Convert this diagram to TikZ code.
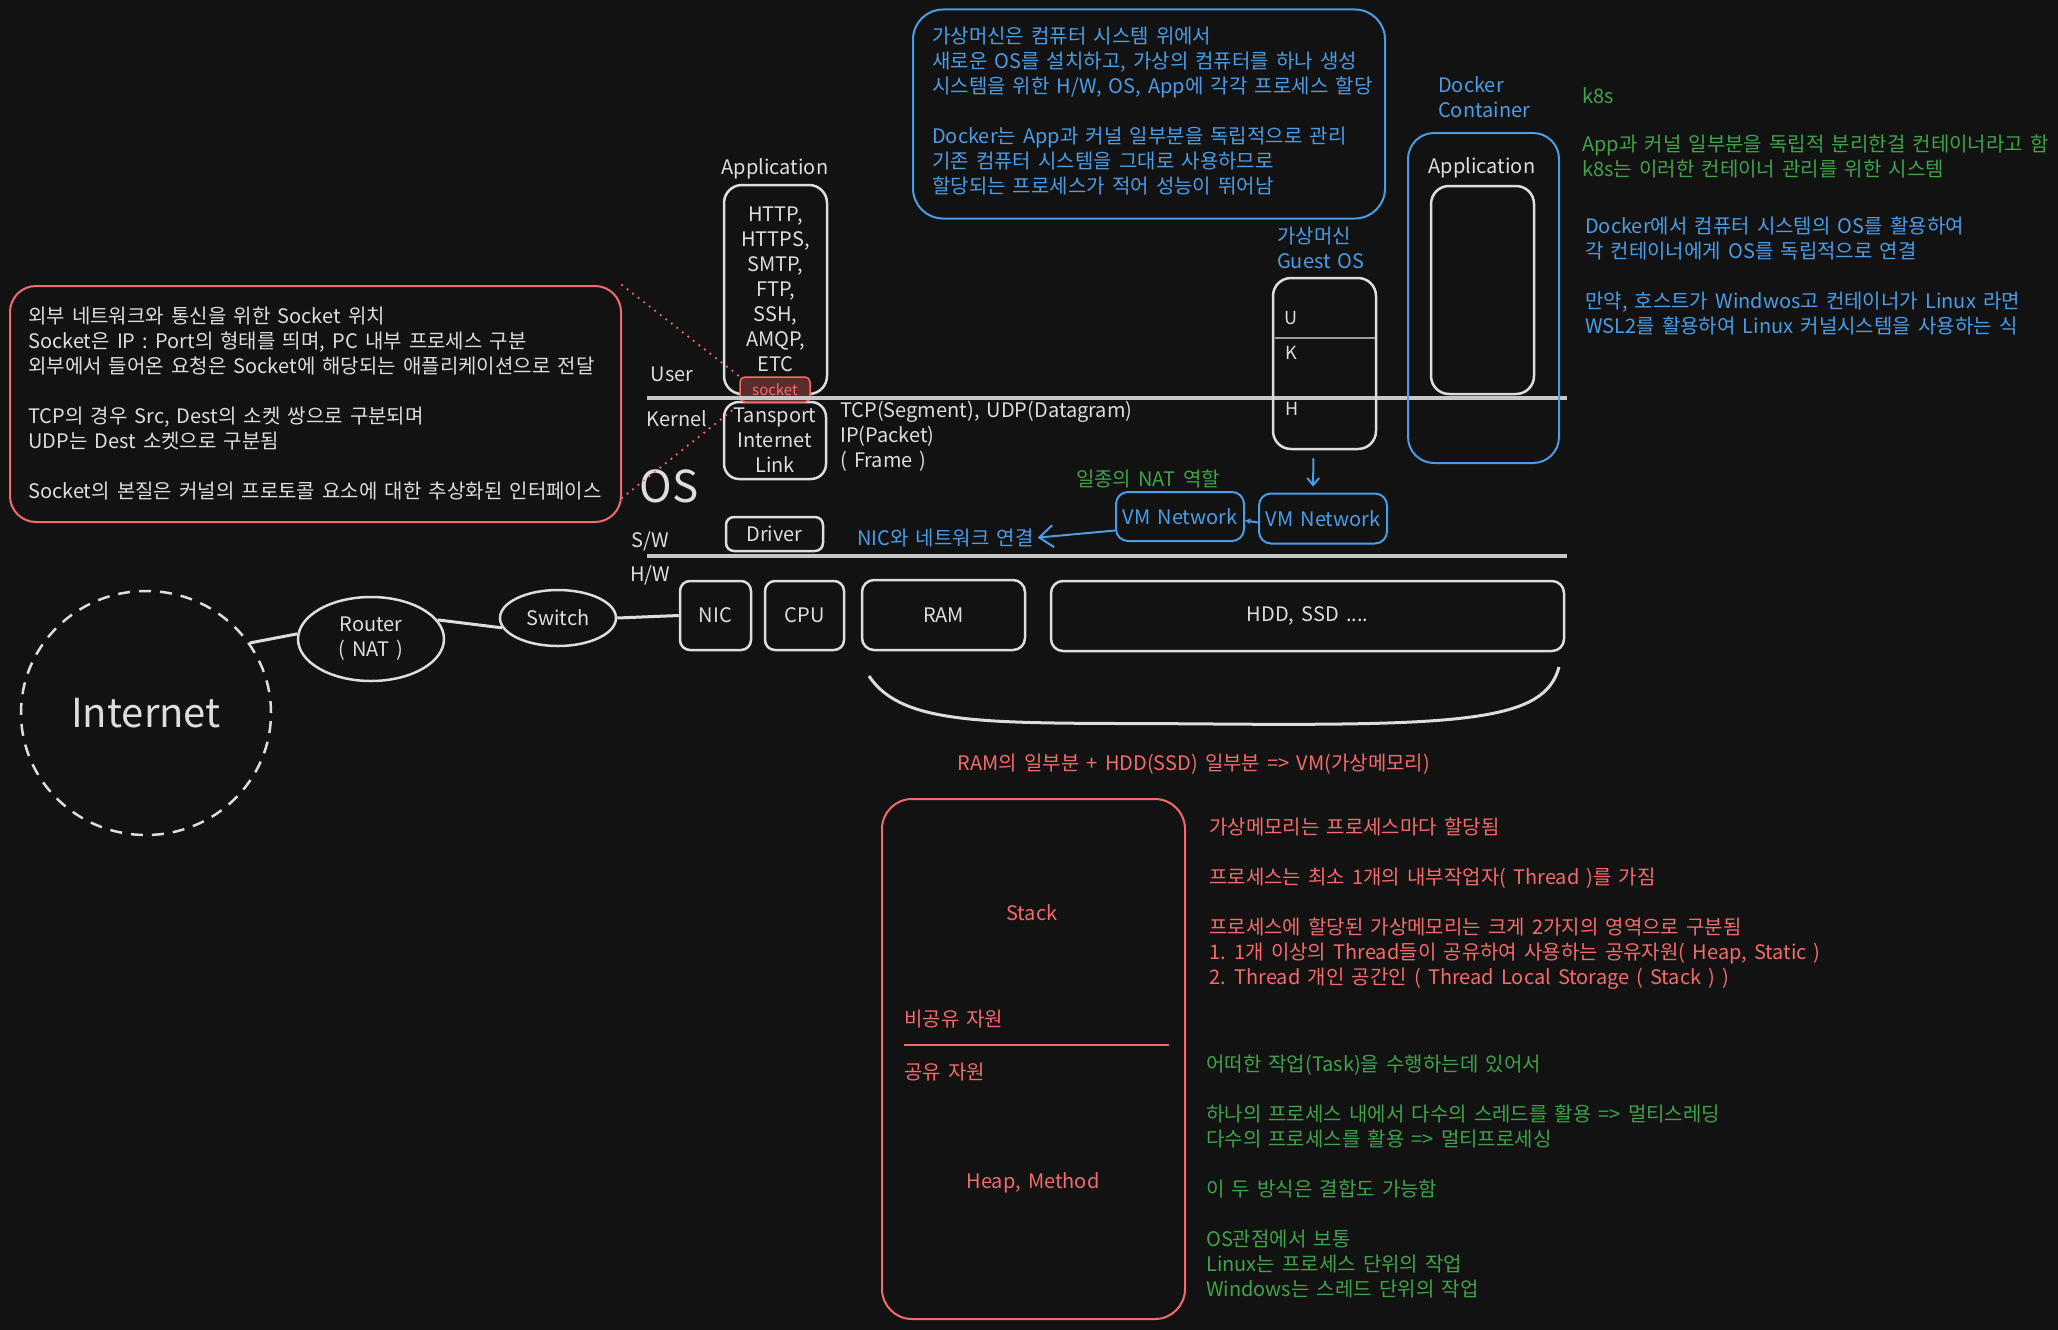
\documentclass[tikz,border=0pt]{standalone}
\usepackage{fontspec}
\setmainfont{Noto Sans CJK KR}[WordSpace=1.6]
\usetikzlibrary{shapes.geometric,arrows.meta}
\definecolor{bgc}{HTML}{121212}
\definecolor{inkw}{HTML}{DDDDDD}
\definecolor{inkb}{HTML}{4A9DE6}
\definecolor{inkg}{HTML}{3FA34A}
\definecolor{inkr}{HTML}{F36B6B}
\definecolor{sockf}{HTML}{5C2B2B}

\begin{document}
\begin{tikzpicture}[x=1pt,y=-1pt,
  every node/.style={font=\fontsize{20}{25}\selectfont},
  wbox/.style={draw=inkw,text=inkw,line width=2.5pt,rounded corners=18pt,inner sep=0pt,align=center},
  bbox/.style={draw=inkb,text=inkb,line width=2pt,rounded corners=14pt,inner sep=0pt},
  rbox/.style={draw=inkr,text=inkr,line width=2pt,rounded corners=30pt,inner sep=0pt},
  wtxt/.style={text=inkw,inner sep=0pt,align=left},
  btxt/.style={text=inkb,inner sep=0pt,align=left},
  gtxt/.style={text=inkg,inner sep=0pt,align=left},
  rtxt/.style={text=inkr,inner sep=0pt,align=left},
  layer/.style={draw=inkw!90!black,line width=4pt},
  wire/.style={draw=inkw,line width=3pt},
  hint/.style={draw=inkr,line width=2.5pt,line cap=round,dash pattern=on 0pt off 7pt}]
\fill[bgc] (0,0) rectangle (2058,1330);
\useasboundingbox (0,0) rectangle (2058,1330);

% notes at the top
\node (vmnote) [bbox,rounded corners=30pt,minimum width=472pt,minimum height=209pt] at (1149,114) {};
\node (vmtext) [btxt,anchor=west] at (932,111.5) {가상머신은 컴퓨터 시스템 위에서\\
  새로운 OS를 설치하고, 가상의 컴퓨터를 하나 생성\\
  시스템을 위한 H/W, OS, App에 각각 프로세스 할당\\[25pt]
  Docker는 App과 커널 일부분을 독립적으로 관리\\
  기존 컴퓨터 시스템을 그대로 사용하므로\\
  할당되는 프로세스가 적어 성능이 뛰어남};
\node (socknote) [rbox,minimum width=611pt,minimum height=236pt,rounded corners=26pt] at (315.5,404) {};
\node (socktext) [wtxt,anchor=west] at (28,404) {외부 네트워크와 통신을 위한 Socket 위치\\
  Socket은 IP : Port의 형태를 띄며, PC 내부 프로세스 구분\\
  외부에서 들어온 요청은 Socket에 해당되는 애플리케이션으로 전달\\[25pt]
  TCP의 경우 Src, Dest의 소켓 쌍으로 구분되며\\
  UDP는 Dest 소켓으로 구분됨\\[25pt]
  Socket의 본질은 커널의 프로토콜 요소에 대한 추상화된 인터페이스};

% host stack
\node (applbl) [wtxt] at (775,169) {Application};
\node (appbox) [wbox,minimum width=103pt,minimum height=209pt] at (775.5,289.5) {HTTP,\\HTTPS,\\SMTP,\\FTP,\\SSH,\\AMQP,\\ETC};
\node (kernbox) [wbox,minimum width=102pt,minimum height=77pt,rounded corners=15pt] at (775,440.5) {Tansport\\Internet\\Link};
\node (sock) [draw=inkr,fill=sockf,text=inkr,line width=1.5pt,rounded corners=5pt,minimum width=70pt,minimum height=25pt,inner sep=0pt,font=\fontsize{15}{15}\selectfont] at (775,389.5) {socket};
\node (proto) [wtxt,anchor=west] at (840,436.5) {TCP(Segment), UDP(Datagram)\\ IP(Packet)\\ ( Frame )};
\node (driver) [wbox,minimum width=97pt,minimum height=34pt,rounded corners=8pt] at (774.5,534) {Driver};
\node (userlbl) [wtxt] at (672,374) {User};
\node (kernlbl) [wtxt] at (677,419) {Kernel};
\node (oslbl) [wtxt,font=\fontsize{44}{44}\selectfont] at (669,486) {OS};
\node (swlbl) [wtxt] at (650,541) {S/W};
\node (hwlbl) [wtxt] at (650,575) {H/W};
\coordinate (ukL) at (647,398);
\coordinate (ukR) at (1567,398);
\coordinate (shL) at (647,556);
\coordinate (shR) at (1567,556);
\draw[layer] (ukL) -- (ukR);
\draw[layer] (shL) -- (shR);
\draw[hint] (socknote.north east) -- (sock.north west);
\draw[hint] ([yshift=25pt]socknote.south east) -- ([xshift=14pt,yshift=-6pt]kernbox.north west);

% guest OS and VM network
\node (guestlbl) [btxt,anchor=west] at (1277,248) {가상머신\\Guest OS};
\node (guestbox) [wbox,minimum width=103pt,minimum height=171pt] at (1324.5,363.5) {};
\coordinate (ukdL) at (1275,338);
\coordinate (ukdR) at (1375,338);
\draw[draw=inkw!70!black,line width=2.5pt] (ukdL) -- (ukdR);
\node (ulbl) [wtxt,font=\fontsize{18}{18}\selectfont] at (1291,318) {U};
\node (klbl) [wtxt,font=\fontsize{18}{18}\selectfont] at (1291,353) {K};
\node (hlbl) [wtxt,font=\fontsize{18}{18}\selectfont] at (1292,409) {H};
\node (vmnet2) [bbox,minimum width=128pt,minimum height=50pt,rounded corners=12pt] at (1323,518.5) {VM Network};
\node (vmnet1) [bbox,minimum width=128pt,minimum height=49pt,rounded corners=12pt] at (1180,516.5) {VM Network};
\node (natlbl) [gtxt] at (1148,479) {일종의 NAT 역할};
\node (niclink) [btxt,anchor=west] at (857,538) {NIC와 네트워크 연결};
\draw[draw=inkb,line width=2pt,-{Straight Barb[length=7pt,width=12pt]},shorten <=8pt,shorten >=6pt] ([xshift=-11pt]guestbox.south) -- ([xshift=-10pt]vmnet2.north);
\draw[draw=inkb,line width=2pt,-{Stealth[length=6pt,width=6pt]}] ([yshift=-4pt]vmnet2.west) -- ([yshift=-4pt]vmnet1.east);
\draw[draw=inkb,line width=2pt,-{Straight Barb[length=14pt,width=22pt]},shorten >=4pt] ([yshift=-14pt]vmnet1.west) -- (niclink.east);

% docker container
\node (docklbl) [btxt,anchor=west] at (1438,97.5) {Docker\\Container};
\node (dockbox) [bbox,minimum width=151pt,minimum height=330pt,rounded corners=26pt] at (1483.5,298) {};
\node (dapplbl) [wtxt] at (1482,168) {Application};
\node (dappbox) [wbox,minimum width=103pt,minimum height=208pt] at (1482.5,290) {};

% notes on the right
\node (k8slbl) [gtxt,anchor=west] at (1582,96) {k8s};
\node (k8stext) [gtxt,anchor=west] at (1582,156.5) {App과 커널 일부분을 독립적 분리한걸 컨테이너라고 함\\
  k8s는 이러한 컨테이너 관리를 위한 시스템};
\node (docktext) [btxt,anchor=west] at (1585,276) {Docker에서 컴퓨터 시스템의 OS를 활용하여\\
  각 컨테이너에게 OS를 독립적으로 연결\\[25pt]
  만약, 호스트가 Windwos고 컨테이너가 Linux 라면\\
  WSL2를 활용하여 Linux 커널시스템을 사용하는 식};

% hardware and network
\node (nic) [wbox,minimum width=71pt,minimum height=69pt,rounded corners=10pt] at (715.5,615.5) {NIC};
\node (cpu) [wbox,minimum width=79pt,minimum height=69pt,rounded corners=10pt] at (804.5,615.5) {CPU};
\node (ram) [wbox,minimum width=163pt,minimum height=70pt,rounded corners=12pt] at (943.5,615) {RAM};
\node (hdd) [wbox,minimum width=513pt,minimum height=70pt,rounded corners=12pt] at (1307.5,616) {HDD, SSD ....};
\node (internet) [ellipse,draw=inkw,text=inkw,line width=2.5pt,dash pattern=on 12pt off 9pt,minimum width=250pt,minimum height=244pt,inner sep=0pt,font=\fontsize{40}{40}\selectfont] at (146,713) {Internet};
\node (router) [ellipse,draw=inkw,text=inkw,line width=2.5pt,minimum width=146pt,minimum height=84pt,inner sep=0pt,align=center] at (371,639) {Router\\( NAT )};
\node (switch) [ellipse,draw=inkw,text=inkw,line width=2.5pt,minimum width=116pt,minimum height=56pt,inner sep=0pt] at (558,618) {Switch};
\draw[wire] (internet.34) -- (router.176);
\draw[wire] (router.16) -- (switch.190);
\draw[wire] (switch.east) -- (nic.west);
\coordinate (brL) at (869,676);
\coordinate (brM) at (1214,724);
\coordinate (brR) at (1559,667);
\draw[wire] (brL) .. controls (905,730) and (1000,722) .. (brM) .. controls (1470,726) and (1545,720) .. (brR);
\node (vmmem) [rtxt] at (1194,764) {RAM의 일부분 + HDD(SSD) 일부분 => VM(가상메모리)};

% process memory
\node (membox) [rbox,minimum width=303pt,minimum height=520pt] at (1033.5,1059) {};
\coordinate (memL) at (904,1045);
\coordinate (memR) at (1169,1045);
\draw[draw=inkr,line width=2.5pt] (memL) -- (memR);
\node (stack) [rtxt] at (1032,913) {Stack};
\node (private) [rtxt,anchor=west] at (904,1019) {비공유 자원};
\node (shared) [rtxt,anchor=west] at (904,1072) {공유 자원};
\node (heap) [rtxt] at (1033,1183) {Heap, Method};
\node (memtext) [rtxt,anchor=west] at (1209,903.5) {가상메모리는 프로세스마다 할당됨\\[25pt]
  프로세스는 최소 1개의 내부작업자( Thread )를 가짐\\[25pt]
  프로세스에 할당된 가상메모리는 크게 2가지의 영역으로 구분됨\\
  1. 1개 이상의 Thread들이 공유하여 사용하는 공유자원( Heap, Static )\\
  2. Thread 개인 공간인 ( Thread Local Storage ( Stack ) )};
\node (tasktext) [gtxt,anchor=west] at (1206,1177) {어떠한 작업(Task)을 수행하는데 있어서\\[25pt]
  하나의 프로세스 내에서 다수의 스레드를 활용 => 멀티스레딩\\
  다수의 프로세스를 활용 => 멀티프로세싱\\[25pt]
  이 두 방식은 결합도 가능함\\[25pt]
  OS관점에서 보통\\
  Linux는 프로세스 단위의 작업\\
  Windows는 스레드 단위의 작업};
\end{tikzpicture}
\end{document}
